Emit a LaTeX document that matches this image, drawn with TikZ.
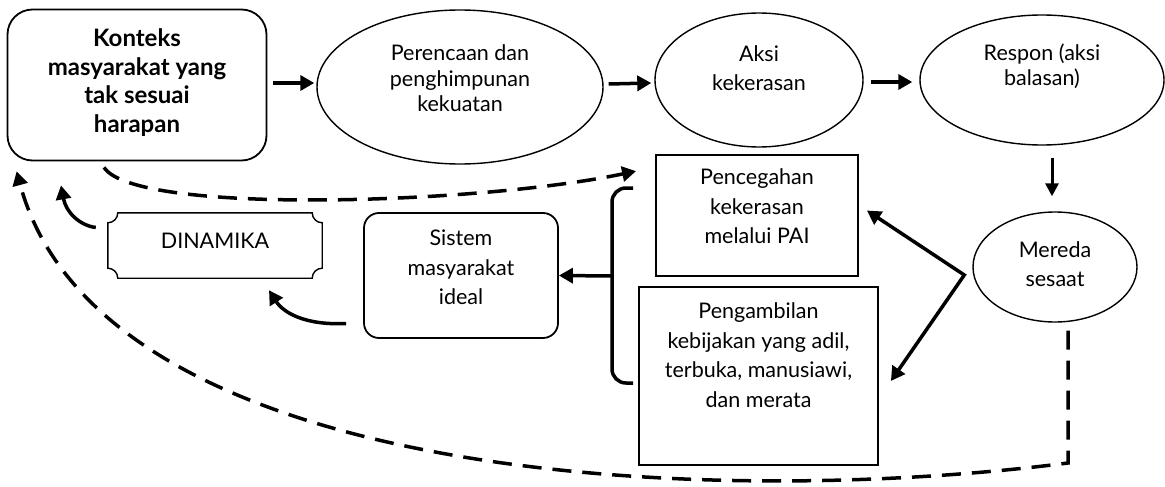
\documentclass[tikz,border=0pt]{standalone}
\usepackage{fontspec}
\setmainfont{Lato}
\usetikzlibrary{shapes.geometric,arrows.meta,calc}
\newcommand{\tb}[2]{\raisebox{#1}[\height][\depth]{\begin{tabular}{@{}c@{}}#2\end{tabular}}}
\begin{document}
\begin{tikzpicture}[x=1pt,y=-1pt,
  txt/.style={font=\fontsize{21.5}{29.5}\selectfont, inner sep=0pt},
  tight/.style={font=\fontsize{21.5}{25.5}\selectfont},
  ell/.style={txt, draw, ellipse, line width=1.4pt},
  rbox/.style={txt, draw, rounded corners=#1, line width=1.8pt},
  sbox/.style={txt, draw, rectangle, line width=1.8pt},
  arr/.style={line width=3.5pt, -{Triangle[length=14pt,width=15pt]}},
  darr/.style={line width=3.5pt, dash pattern=on 19pt off 11pt, -{Triangle[length=14pt,width=15pt]}}
]
\useasboundingbox (0,0) rectangle (1165,487);

% nodes
\node[rbox=25pt, minimum width=259pt, minimum height=151pt,
      font=\bfseries\fontsize{24}{28.5}\selectfont] (konteks) at (137,85)
  {\tb{1pt}{Konteks\\masyarakat yang\\tak sesuai\\harapan}};
\node[ell, tight, minimum width=286pt, minimum height=154pt] (perenc) at (460,87)
  {\tb{6pt}{Perencaan dan\\penghimpunan\\kekuatan}};
\node[ell, minimum width=208pt, minimum height=134pt] (aksi) at (759,80)
  {\tb{10pt}{Aksi\\kekerasan}};
\node[ell, tight, minimum width=244pt, minimum height=130pt] (respon) at (1042,80)
  {\tb{12pt}{Respon (aksi\\balasan)}};
\node[ell, minimum width=164pt, minimum height=110pt] (mereda) at (1055,267)
  {\tb{1pt}{Mereda\\sesaat}};
\node[sbox, minimum width=202pt, minimum height=121pt] (cegah) at (757,215.5)
  {\tb{7pt}{Pencegahan\\kekerasan\\melalui PAI}};
\node[sbox, minimum width=239pt, minimum height=178pt] (ambil) at (758.5,376)
  {\tb{19pt}{Pengambilan\\kebijakan yang adil,\\terbuka, manusiawi,\\dan merata}};
\node[rbox=15pt, minimum width=194pt, minimum height=125pt] (sistem) at (461,275.5)
  {\tb{6pt}{Sistem\\masyarakat\\ideal}};
\node[txt, minimum width=214pt, minimum height=65pt] (dinamika) at (215,245.5)
  {\tb{3pt}{DINAMIKA}};

% plaque outline of DINAMIKA
\draw[line width=1.4pt] let \p1=(dinamika.north west), \p2=(dinamika.south east),
  \n1={10pt}, \n2={5.5pt} in
  ({\x1+\n1},\y1) -- ({\x2-\n1},\y1)
  .. controls ({\x2-\n1},{\y1-\n2}) and ({\x2-\n2},{\y1-\n1}) .. (\x2,{\y1-\n1})
  -- (\x2,{\y2+\n1})
  .. controls ({\x2-\n2},{\y2+\n1}) and ({\x2-\n1},{\y2+\n2}) .. ({\x2-\n1},\y2)
  -- ({\x1+\n1},\y2)
  .. controls ({\x1+\n1},{\y2+\n2}) and ({\x1+\n2},{\y2+\n1}) .. (\x1,{\y2+\n1})
  -- (\x1,{\y1-\n1})
  .. controls ({\x1+\n2},{\y1-\n1}) and ({\x1+\n1},{\y1-\n2}) .. cycle;

% coordinates
\coordinate (apex) at ([xshift=-8pt,yshift=-8pt]mereda.west);
\coordinate (brtop) at (633,188);
\coordinate (brbot) at (633,383);
\coordinate (brmid) at (612,276);
\coordinate (corner) at (1068,463);

% main flow
\draw[arr] ([xshift=6pt,yshift=2pt]konteks.east) -- ([xshift=-2pt,yshift=4pt]perenc.west);
\draw[arr] ([xshift=5pt,yshift=3pt]perenc.east) -- ([xshift=-3pt,yshift=-3pt]aksi.west);
\draw[arr] ([xshift=7pt,yshift=-2pt]aksi.east) -- ([xshift=-7pt,yshift=-2pt]respon.west);
\draw[line width=3pt, -{Triangle[length=13pt,width=13pt]}] ([xshift=10pt,yshift=-12pt]respon.south) -- ([xshift=-3pt,yshift=15pt]mereda.north);

% from Mereda to the two boxes
\draw[line width=3.5pt, {Triangle[length=14pt,width=15pt]}-{Triangle[length=14pt,width=15pt]}]
  ([xshift=8pt,yshift=5pt]cegah.east) -- (apex) -- ([xshift=12pt,yshift=-5pt]ambil.east);

% bracket
\draw[line width=3.5pt, rounded corners=14pt] (brtop) -- (612,188) -- (612,383) -- (brbot);
\draw[line width=3.5pt, -{Triangle[length=14pt,width=15pt]}] (brmid) -- (sistem.east);

% curved arrows
\draw[arr] ([xshift=-17pt,yshift=-48pt]sistem.west) .. controls +(-42,2) and +(14,22) .. ([xshift=54pt,yshift=-12pt]dinamika.south);
\draw[arr] ([xshift=-12pt,yshift=18pt]dinamika.west) .. controls +(-16,-2) and +(5,27) .. ([xshift=-76pt,yshift=-24pt]konteks.south);

% dashed feedback
\draw[darr] ([xshift=-33pt,yshift=-6pt]konteks.south) .. controls +(31,48) and +(-157,33) .. ([xshift=-19pt,yshift=-17pt]cegah.north west);
\draw[darr] ([xshift=13pt,yshift=-8pt]mereda.south) -- (corner) .. controls (700,510) and (100,480) .. ([xshift=10pt,yshift=-10pt]konteks.south west);
\end{tikzpicture}
\end{document}
